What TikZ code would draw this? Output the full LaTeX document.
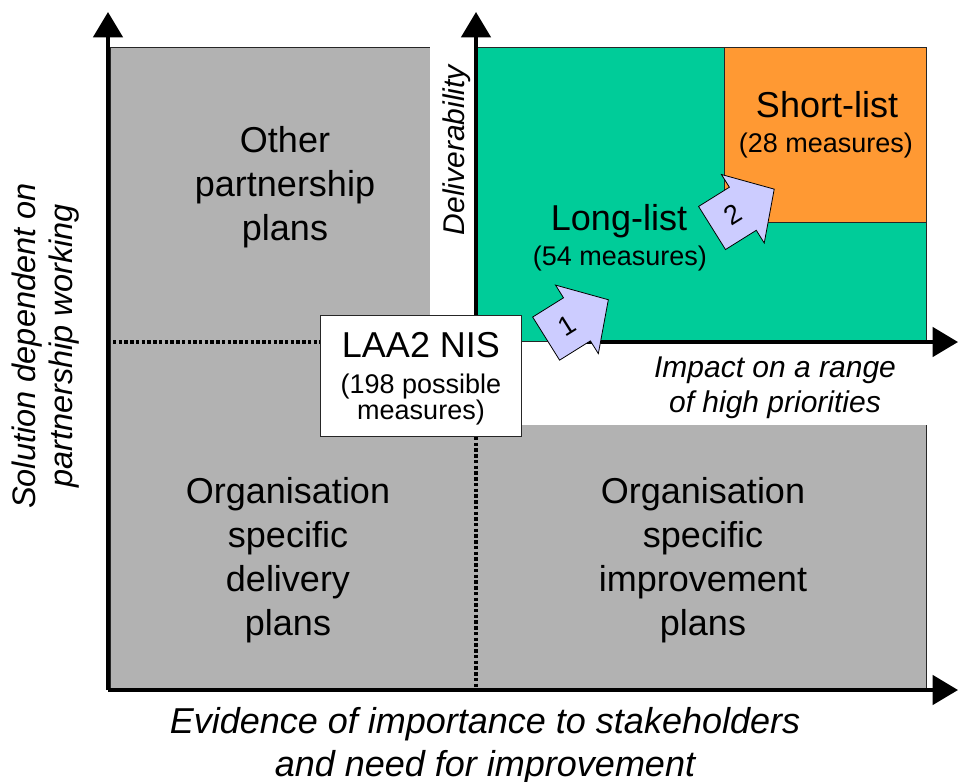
\documentclass[tikz,border=0pt]{standalone}
\usepackage{fontspec}
\setmainfont{Liberation Sans}
\usetikzlibrary{arrows.meta,shapes.arrows}
\definecolor{quadgray}{RGB}{178,178,178}
\definecolor{longgreen}{RGB}{0,204,153}
\definecolor{shortorange}{RGB}{255,153,51}
\definecolor{steplilac}{RGB}{204,204,255}
\tikzset{
  axisline/.style={line width=2.6pt,-{Triangle[length=19pt,width=22pt]}},
  thinline/.style={line width=0.6pt,draw=black!85},
  dotline/.style={line width=2.7pt,dash pattern=on 2.6pt off 1.7pt},
  bigtxt/.style={font=\fontsize{27}{33}\selectfont,align=center,anchor=base,inner sep=0pt},
  smalltxt/.style={font=\fontsize{20.25}{18.4}\selectfont,align=center,anchor=base,inner sep=0pt},
  axistxt/.style={font=\fontsize{22.5}{26.25}\selectfont\itshape,align=center,anchor=base,inner sep=0pt},
  stepdart/.style={single arrow,draw=black,line width=0.6pt,fill=steplilac,rotate=32,anchor=tail,
    minimum height=55pt,single arrow head extend=11.25pt,single arrow tip angle=95,
    text height=14pt,text depth=0pt,inner xsep=2pt,inner ysep=11.75pt,
    font=\fontsize{20.25}{24}\selectfont}
}
\begin{document}
\begin{tikzpicture}[x=0.75pt,y=-0.75pt]
\useasboundingbox (0,0) rectangle (958,782);
\coordinate (O) at (108,690);%
\coordinate (ytop) at (108,12);%
\coordinate (xend) at (958,690);%
\coordinate (O2) at (476,342);%
\coordinate (y2top) at (476,12);%
\coordinate (x2start) at (585,342);%
\coordinate (x2end) at (958,342);%
% quadrants
\draw[thinline,fill=quadgray] (110,47.5) rectangle (926.5,690);%
\fill[white] (430,44) rectangle (477,341);%
\fill[white] (477,341) rectangle (940,425);%
\draw[thinline,fill=longgreen] (477,47.5) rectangle (926.5,341);%
\draw[thinline,fill=shortorange] (724,47.5) rectangle (926.5,222);%
\draw[dotline] (113,342) -- (322,342);%
\draw[dotline] (476,437) -- (476,688);%
% axes
\draw[axisline] (O) -- (ytop);%
\draw[axisline] (O) -- (xend);%
\draw[axisline] (O2) -- (y2top);%
\draw[axisline] (x2start) -- (x2end);%
\node[draw=black!85,line width=0.6pt,fill=white,minimum width=151pt,minimum height=91pt,inner sep=0pt] (nis) at (421,375.75) {};%
\node[stepdart] (step1) at (545.8,338.8) {1};%
\node[stepdart] (step2) at (711.7,228.2) {2};%
% labels
\node[bigtxt] (other) at (285,240) {Other\\partnership\\plans};%
\node[bigtxt] (orgdel) at (288,635) {Organisation\\specific\\delivery\\plans};%
\node[bigtxt] (orgimp) at (703,635) {Organisation\\specific\\improvement\\plans};%
\node[bigtxt] (long) at (619,230) {Long-list};%
\node[smalltxt] (longn) at (620,265) {(54 measures)};%
\node[bigtxt] (short) at (827,117) {Short-list};%
\node[smalltxt] (shortn) at (826,152) {(28 measures)};%
\node[bigtxt] (nisname) at (421,357) {LAA2 NIS};%
\node[smalltxt] (niscount) at (421,419.5) {(198 possible\\measures)};%
\node[axistxt,rotate=90] (deliv) at (464,150) {Deliverability};%
\node[axistxt] (impact) at (775,412) {Impact on a range\\of high priorities};%
\node[axistxt,font=\fontsize{27}{32.5}\selectfont\itshape] (evid) at (485,776.5) {Evidence of importance to stakeholders\\and need for improvement};%
\node[axistxt,rotate=90,font=\fontsize{24.4}{27.5}\selectfont\itshape] (sol) at (72,346) {Solution dependent on\\partnership working};%
\end{tikzpicture}
\end{document}
